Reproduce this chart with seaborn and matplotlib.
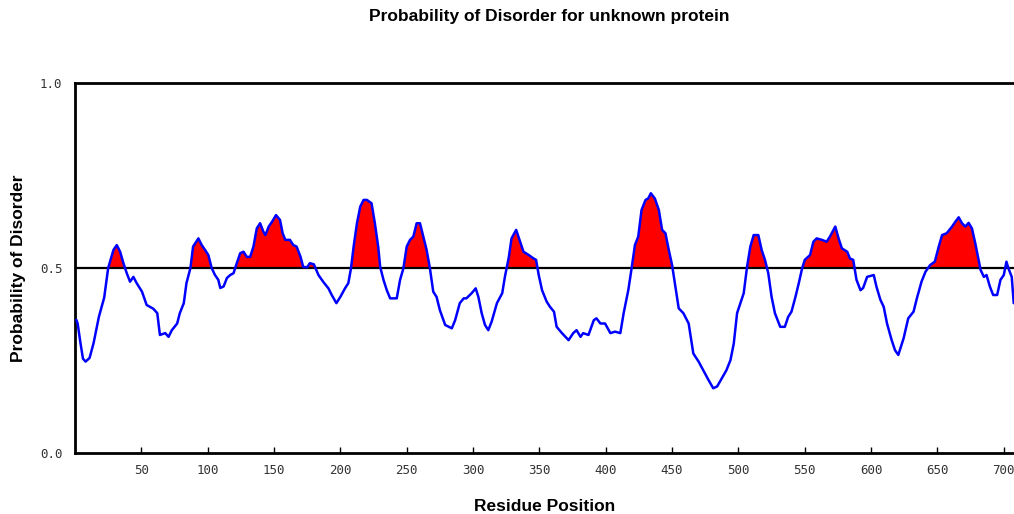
import numpy as np
import pandas as pd
import matplotlib
matplotlib.use("Agg")
import matplotlib.pyplot as plt
import seaborn as sns

# Data
residue = [1, 2, 4, 6, 8, 11, 14, 18, 22, 25, 29, 31.5, 34, 36.5, 39, 41.5, 44, 46.5, 50.5, 54,
           59, 62, 64, 68, 70.5, 73, 77, 79, 82, 84, 87, 89, 93, 95.5, 98, 100.5, 103, 105.5, 108, 109.5,
           112, 114.5, 117, 119.5, 121, 124.5, 127, 129.5, 132, 134.5, 137, 139.5, 142, 143.5, 146, 148.5,
           151.5, 154.5, 156.5, 158.5, 162, 164.5, 167, 170, 172, 175, 177, 180, 183.5, 187, 191, 193.5,
           197, 200, 203.5, 206, 208, 210, 212.5, 215, 217.5, 220, 223.5, 226, 228.5, 230, 232.5, 235,
           237.5, 242.5, 245, 247.5, 250, 252.5, 255, 257.5, 260, 262.5, 265, 267.5, 270, 272.5, 275, 279,
           284, 286.5, 290, 293, 295, 299, 302, 304, 306.5, 309, 311.5, 314, 318, 322, 324, 327, 329,
           332.5, 335.5, 338, 342, 345.5, 347.5, 349.5, 352, 355.5, 358, 361, 363, 367, 372, 375.5, 378,
           381, 383, 387, 391, 393, 396, 399.5, 403.5, 407, 411, 413.5, 417, 419.5, 422, 424.5, 427, 430,
           432, 434, 437, 440, 442.5, 445, 447.5, 450, 452.5, 455, 458.5, 462.5, 466, 470, 474, 477.5,
           481, 484, 487.5, 491, 494, 496.5, 499, 501.5, 504, 506.5, 509, 511.5, 515, 517.5, 520, 522.5,
           525, 527.5, 531.5, 535, 537.5, 540, 543, 545.5, 548, 550, 554, 556.5, 559, 563, 566.5, 569,
           573, 575.5, 578, 582, 584, 586.5, 589, 592, 594, 597, 602, 604, 607, 609.5, 612, 615.5, 618,
           620.5, 624.5, 628, 632, 634.5, 638, 641, 644.5, 648, 651, 653.5, 657, 661, 663.5, 666, 668.5,
           671, 673.5, 676, 678.5, 681, 682.5, 685, 687, 689.5, 692, 695, 697.5, 700, 702, 703.5, 706,
           707.5]
probability = [0.36, 0.35, 0.30, 0.255, 0.247, 0.257, 0.297, 0.368, 0.42, 0.50, 0.549, 0.562, 0.544,
               0.513, 0.486, 0.463, 0.476, 0.459, 0.436, 0.40, 0.39, 0.378, 0.319, 0.324, 0.314, 0.332,
               0.35, 0.378, 0.405, 0.459, 0.50, 0.558, 0.58, 0.562, 0.549, 0.535, 0.50, 0.481, 0.468,
               0.446, 0.45, 0.473, 0.481, 0.486, 0.503, 0.54, 0.544, 0.53, 0.53, 0.558, 0.607, 0.621,
               0.598, 0.589, 0.612, 0.625, 0.643, 0.63, 0.594, 0.576, 0.576, 0.562, 0.558, 0.53, 0.503,
               0.502, 0.513, 0.51, 0.481, 0.463, 0.445, 0.427, 0.405, 0.422, 0.445, 0.459, 0.499, 0.558,
               0.621, 0.666, 0.684, 0.684, 0.675, 0.621, 0.558, 0.503, 0.468, 0.44, 0.418, 0.418, 0.468,
               0.499, 0.558, 0.576, 0.585, 0.621, 0.621, 0.585, 0.549, 0.499, 0.436, 0.422, 0.386, 0.346,
               0.337, 0.359, 0.405, 0.418, 0.418, 0.432, 0.445, 0.422, 0.378, 0.346, 0.332, 0.355, 0.405,
               0.432, 0.476, 0.53, 0.58, 0.603, 0.571, 0.544, 0.535, 0.526, 0.522, 0.481, 0.44, 0.409,
               0.395, 0.382, 0.341, 0.324, 0.305, 0.324, 0.332, 0.314, 0.324, 0.319, 0.359, 0.364, 0.35,
               0.35, 0.324, 0.328, 0.324, 0.378, 0.44, 0.499, 0.562, 0.585, 0.657, 0.684, 0.688, 0.702,
               0.688, 0.657, 0.603, 0.594, 0.549, 0.508, 0.45, 0.391, 0.378, 0.35, 0.269, 0.247, 0.22,
               0.197, 0.175, 0.18, 0.202, 0.224, 0.251, 0.296, 0.378, 0.405, 0.432, 0.503, 0.558, 0.589,
               0.589, 0.549, 0.522, 0.486, 0.422, 0.378, 0.341, 0.341, 0.368, 0.382, 0.422, 0.459, 0.499,
               0.522, 0.535, 0.571, 0.58, 0.576, 0.571, 0.585, 0.612, 0.58, 0.553, 0.544, 0.526, 0.522,
               0.468, 0.44, 0.446, 0.476, 0.481, 0.45, 0.414, 0.395, 0.35, 0.305, 0.278, 0.265, 0.31,
               0.364, 0.382, 0.418, 0.463, 0.49, 0.508, 0.517, 0.558, 0.589, 0.594, 0.612, 0.625, 0.637,
               0.621, 0.612, 0.622, 0.607, 0.567, 0.522, 0.495, 0.476, 0.481, 0.45, 0.427, 0.427, 0.468,
               0.481, 0.517, 0.499, 0.476, 0.405]
threshold = 0.5
x_ticks = [50, 100, 150, 200, 250, 300, 350, 400, 450, 500, 550, 600, 650, 700]
y_ticks = [0.0, 0.5, 1.0]
y_tick_labels = ["0.0", "0.5", "1.0"]

df = pd.DataFrame({"Residue": residue, "Probability": probability})

sns.set_style("white")
fig = plt.figure(figsize=(10.14, 5.14), dpi=100)
ax = fig.add_axes([75 / 1014, 61 / 514, 1 - 75 / 1014, 370 / 514])

x = np.array(residue)
y = np.array(probability)
ax.fill_between(x, threshold, y, where=y > threshold, interpolate=True,
                color="#ff0000", linewidth=0, zorder=2)
ax.axhline(threshold, color="black", linewidth=1.6, zorder=3)
sns.lineplot(data=df, x="Residue", y="Probability", ax=ax, color="#0000ff",
             linewidth=1.8, zorder=4, estimator=None, sort=False)

ax.set_xlim(0, 707.7)
ax.set_ylim(0, 1)
ax.set_xticks(x_ticks)
ax.set_xticklabels([str(t) for t in x_ticks], family="DejaVu Sans Mono",
                   fontsize=9, color="#333333")
ax.set_yticks(y_ticks)
ax.set_yticklabels(y_tick_labels, family="DejaVu Sans Mono", fontsize=9, color="#333333")
ax.tick_params(axis="x", direction="in", length=4, width=1, color="black", pad=8, bottom=True)
ax.tick_params(axis="y", length=0, pad=9, left=False)

for side in ["left", "bottom", "top"]:
    ax.spines[side].set_visible(True)
    ax.spines[side].set_color("black")
    ax.spines[side].set_linewidth(2)
ax.spines["right"].set_visible(False)

ax.set_xlabel("Residue Position", fontsize=12.5, fontweight="bold", color="black",
              family="Liberation Sans", labelpad=16)
ax.set_ylabel("Probability of Disorder", fontsize=12.5, fontweight="bold", color="black",
              family="Liberation Sans", labelpad=10)
fig.text(549 / 1014, 1 - 17 / 514, "Probability of Disorder for unknown protein", color="black",
         ha="center", va="center", fontsize=12.5, fontweight="bold", family="Liberation Sans")

fig.savefig("out.png", dpi=100)
